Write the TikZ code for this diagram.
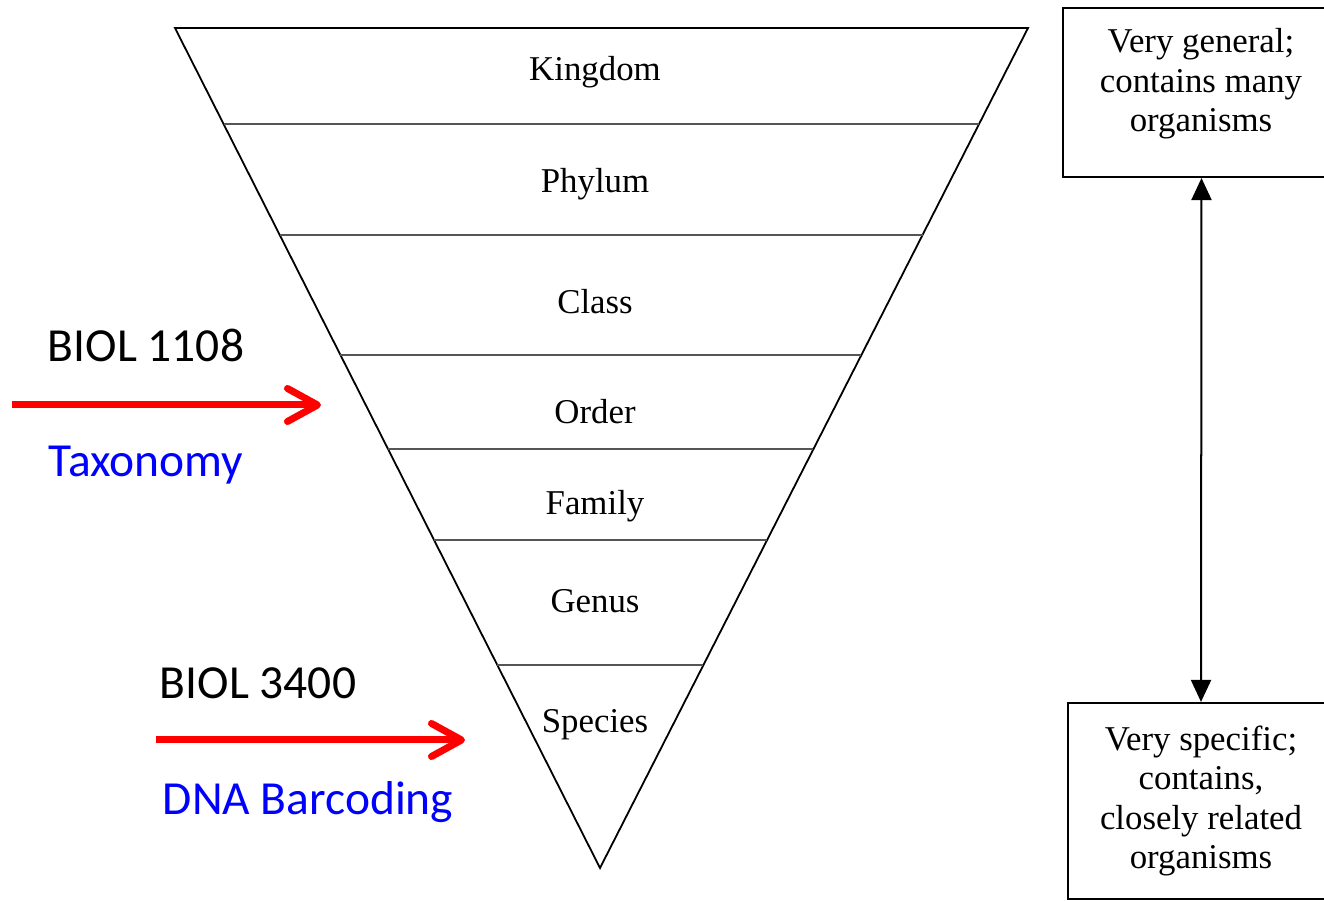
\documentclass[tikz,border=0pt]{standalone}
\usepackage{fontspec}
\setmainfont{Liberation Serif}
\newfontfamily\calibri{Carlito}
\usetikzlibrary{arrows.meta,calc,positioning}
\definecolor{barbred}{RGB}{255,0,0}
\definecolor{linkblue}{RGB}{0,0,255}
\definecolor{rankgray}{RGB}{85,85,85}

\begin{document}
\begin{tikzpicture}[x=0.01cm,y=-0.01cm,
  rank/.style={font=\fontsize{9.9}{11.2}\selectfont, inner sep=0pt, anchor=base},
  course/.style={font=\calibri\fontsize{13.5}{16}\selectfont, inner sep=0pt, anchor=base},
  infobox/.style={draw, line width=0.02cm, inner sep=0pt},
  infotext/.style={font=\fontsize{9.9}{11.2}\selectfont, align=center, inner sep=0pt},
  redarrow/.style={barbred, line width=0.07cm, -{Straight Barb[length=0.3cm,width=0.33cm,round]}},
  bothway/.style={line width=0.02cm, {Triangle[length=0.22cm,width=0.2cm]}-{Triangle[length=0.22cm,width=0.2cm]}}]
\useasboundingbox (0,0) rectangle (1324,901);

% the inverted triangle
\coordinate (tl) at (175,28);
\coordinate (tr) at (1028,28);
\coordinate (apex) at (600,868);
\draw [line width=0.018cm] (tl) -- (tr) -- (apex) -- cycle;
\foreach \t in {0.1143,0.2464,0.3893,0.5012,0.6095,0.7583}
  \draw [rankgray, line width=0.025cm] ($(tl)!\t!(apex)$) -- ($(tr)!\t!(apex)$);

\node [rank] (kingdom) at (595,81) {Kingdom};
\node [rank] (phylum) at (595,193) {Phylum};
\node [rank] (class) at (595,314) {Class};
\node [rank] (order) at (595,424) {Order};
\node [rank] (family) at (595,515) {Family};
\node [rank] (genus) at (595,613) {Genus};
\node [rank] (species) at (595,733) {Species};

% boxes on the right
\node [infobox, minimum width=2.77cm, minimum height=1.69cm] (general) at (1201.5,92.5) {};
\node [infotext] (generaltext) at (1201,84) {Very general;\\contains many\\organisms};
\node [infobox, infotext, minimum width=2.66cm, minimum height=1.96cm] (specific) at (1201,801)
  {Very specific;\\contains,\\closely related\\organisms};
\draw [bothway] (general.south) -- (specific.north);

% courses on the left
\node [course] (biola) at (146,362) {BIOL 1108};
\node [course, text=linkblue] (taxonomy) at (146,477) {Taxonomy};
\coordinate (froma) at (12,405);
\coordinate (toa) at (321,405);
\draw [redarrow] (froma) -- (toa);

\node [course] (biolb) at (258,699) {BIOL 3400};
\node [course, text=linkblue] (barcoding) at (308,815) {DNA Barcoding};
\coordinate (fromb) at (156,740);
\coordinate (tob) at (465,740);
\draw [redarrow] (fromb) -- (tob);

\end{tikzpicture}
\end{document}
